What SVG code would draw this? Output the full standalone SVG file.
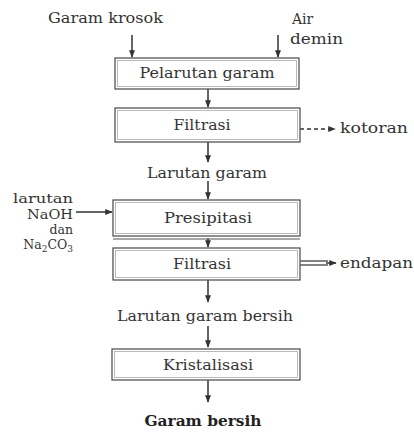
<svg xmlns="http://www.w3.org/2000/svg" width="414" height="433" viewBox="0 0 414 433">
<style>
.t{font-family:"DejaVu Serif","Liberation Serif",serif;font-size:14px;fill:#333}
.s{font-family:"DejaVu Serif","Liberation Serif",serif;font-size:12.5px;fill:#333}
.b{font-family:"DejaVu Serif","Liberation Serif",serif;font-size:15px;font-weight:bold;fill:#222}
.box{fill:#fff;stroke:#555;stroke-width:1.3}
.inn{fill:none;stroke:#aaa;stroke-width:0.8}
.ln{stroke:#333;stroke-width:1.5;fill:none}
</style>
<defs>
<marker id="ah" viewBox="0 0 10 10" refX="9" refY="5" markerWidth="5" markerHeight="5" orient="auto">
<path d="M0,1 L10,5 L0,9 z" fill="#333"/>
</marker>
</defs>
<rect width="414" height="433" fill="#fff"/>
<g id="connectors">
<line class="ln" x1="132" y1="35" x2="132" y2="57" marker-end="url(#ah)"/>
<line class="ln" x1="278" y1="35" x2="278" y2="57" marker-end="url(#ah)"/>
<line class="ln" x1="208" y1="89" x2="208" y2="107" marker-end="url(#ah)"/>
<line class="ln" x1="300" y1="129" x2="335" y2="129" stroke-dasharray="4,3" marker-end="url(#ah)"/>
<line class="ln" x1="208" y1="142" x2="208" y2="162" marker-end="url(#ah)"/>
<line class="ln" x1="208" y1="181" x2="208" y2="199" marker-end="url(#ah)"/>
<line class="ln" x1="76" y1="212" x2="112" y2="212" marker-end="url(#ah)"/>
<line class="ln" x1="208" y1="238" x2="208" y2="247" marker-end="url(#ah)"/>
<line stroke="#333" stroke-width="1.2" x1="300" y1="261" x2="328" y2="261"/>
<line stroke="#333" stroke-width="1.2" x1="300" y1="265" x2="328" y2="265"/>
<line class="ln" x1="326" y1="263" x2="336" y2="263" marker-end="url(#ah)"/>
<line class="ln" x1="208" y1="280" x2="208" y2="302" marker-end="url(#ah)"/>
<line class="ln" x1="208" y1="326" x2="208" y2="347" marker-end="url(#ah)"/>
<line class="ln" x1="208" y1="380" x2="208" y2="402" marker-end="url(#ah)"/>
</g>
<g id="in1"><text class="t" x="48" y="23" textLength="115" lengthAdjust="spacingAndGlyphs">Garam krosok</text></g>
<g id="in2"><text class="t" x="292" y="24">Air</text><text class="t" x="290" y="44" textLength="53" lengthAdjust="spacingAndGlyphs">demin</text></g>
<g id="n1"><rect class="box" x="115" y="58" width="184" height="31"/><rect class="inn" x="117.5" y="60.5" width="179" height="26"/>
<text class="t" x="207" y="78" text-anchor="middle" textLength="135" lengthAdjust="spacingAndGlyphs">Pelarutan garam</text></g>
<g id="n2"><rect class="box" x="115" y="108" width="185" height="34"/><rect class="inn" x="117.5" y="110.5" width="180" height="29"/>
<text class="t" x="202" y="130" text-anchor="middle" textLength="57" lengthAdjust="spacingAndGlyphs">Filtrasi</text></g>
<g id="out1"><text class="t" x="340" y="133" textLength="68" lengthAdjust="spacingAndGlyphs">kotoran</text></g>
<g id="mid1"><text class="t" x="207" y="178" text-anchor="middle" textLength="120" lengthAdjust="spacingAndGlyphs">Larutan garam</text></g>
<g id="in3"><text class="s" x="73" y="203" text-anchor="end" textLength="60" lengthAdjust="spacingAndGlyphs">larutan</text>
<text class="s" x="73" y="219" text-anchor="end" textLength="46" lengthAdjust="spacingAndGlyphs">NaOH</text>
<text class="s" x="73" y="234" text-anchor="end">dan</text>
<text class="s" x="73" y="249" text-anchor="end">Na<tspan font-size="9" dy="3">2</tspan><tspan dy="-3">CO</tspan><tspan font-size="9" dy="3">3</tspan></text></g>
<g id="n3"><rect class="box" x="113" y="200" width="187" height="36"/><rect class="inn" x="115.5" y="202.5" width="182" height="31"/>
<line stroke="#555" stroke-width="1" x1="113" y1="239" x2="300" y2="239"/>
<text class="t" x="208" y="223" text-anchor="middle" textLength="88" lengthAdjust="spacingAndGlyphs">Presipitasi</text></g>
<g id="n4"><rect class="box" x="113" y="248" width="187" height="32"/><rect class="inn" x="115.5" y="250.5" width="182" height="27"/>
<text class="t" x="202" y="269" text-anchor="middle" textLength="58" lengthAdjust="spacingAndGlyphs">Filtrasi</text></g>
<g id="out2"><text class="t" x="340" y="268" textLength="73" lengthAdjust="spacingAndGlyphs">endapan</text></g>
<g id="mid2"><text class="t" x="205" y="321" text-anchor="middle" textLength="176" lengthAdjust="spacingAndGlyphs">Larutan garam bersih</text></g>
<g id="n5"><rect class="box" x="112" y="349" width="188" height="31"/><rect class="inn" x="114.5" y="351.5" width="183" height="26"/>
<text class="t" x="208" y="370" text-anchor="middle" textLength="90" lengthAdjust="spacingAndGlyphs">Kristalisasi</text></g>
<g id="out3"><text class="b" x="203" y="426" text-anchor="middle" textLength="117" lengthAdjust="spacingAndGlyphs">Garam bersih</text></g>
</svg>
